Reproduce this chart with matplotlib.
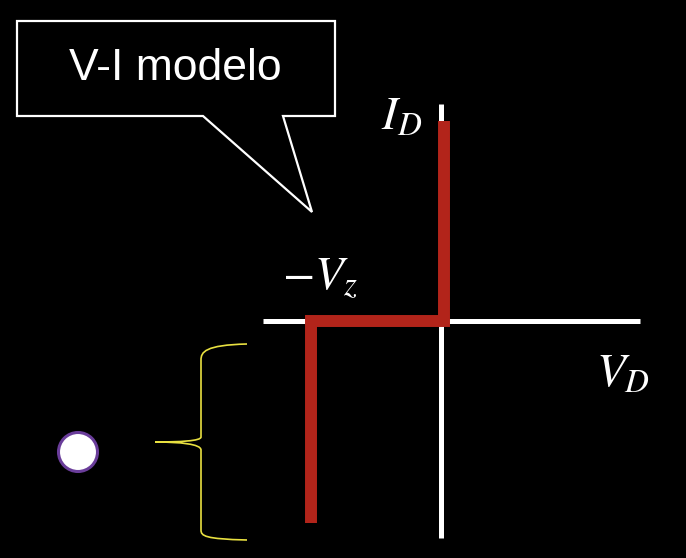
import matplotlib
matplotlib.use('Agg')
import matplotlib.pyplot as plt
from matplotlib.patches import Polygon, Circle
from matplotlib.path import Path
from matplotlib.patches import PathPatch
from matplotlib import font_manager

plt.rcParams['mathtext.fontset'] = 'stix'

# ideal zener model: forward vertical at ~0 V, flat until -Vz, then vertical breakdown
vz = 5.0
v_model = [0.12, 0.12, -vz, -vz]
i_model = [7.7, 0.0, 0.0, -7.75]

# axis extents (V and I directions)
v_axis = [-6.85, 7.65]
i_axis = [-8.35, 8.35]

W, H = 686, 558
fig = plt.figure(figsize=(W / 100, H / 100), dpi=100)
fig.patch.set_facecolor('black')

# chart axes, origin placed at pixel (441, 321), 26 px per unit
px = 26.0
ax = fig.add_axes([0, 0, 1, 1])
ax.set_xlim(-441 / px, (W - 441) / px)
ax.set_ylim(-(H - 321) / px, 321 / px)
ax.set_facecolor('black')
ax.axis('off')

ax.plot(v_axis, [0, 0], color='white', lw=3.6, solid_capstyle='butt')
ax.plot([0, 0], i_axis, color='white', lw=3.6, solid_capstyle='butt')
ax.plot(v_model, i_model, color='#B2241A', lw=8.6,
        solid_joinstyle='miter', solid_capstyle='butt')

ax.text(-60 / px, 191 / px, '$I_D$', color='white', fontsize=34, ha='left', va='baseline')
ax.text(-159 / px, 31 / px, r'$-V_z$', color='white', fontsize=34, ha='left', va='baseline')
ax.text(155 / px, -66 / px, '$V_D$', color='white', fontsize=34, ha='left', va='baseline')

# overlay in pixel coordinates for the callout, brace and dot
ov = fig.add_axes([0, 0, 1, 1])
ov.set_xlim(0, W)
ov.set_ylim(H, 0)
ov.axis('off')
ov.patch.set_alpha(0)

callout = Polygon([(17, 21), (335, 21), (335, 116), (283, 116), (312, 212),
                   (203, 116), (17, 116)], closed=True, facecolor='black',
                  edgecolor='white', lw=1.6, joinstyle='miter')
ov.add_patch(callout)

names = {f.name for f in font_manager.fontManager.ttflist}
if 'Liberation Sans Narrow' in names:
    ov.text(175, 68, 'V-I modelo', color='white', fontsize=35,
            family='Liberation Sans Narrow', ha='center', va='center')
else:
    ov.text(175, 68, 'V-I modelo', color='white', fontsize=32,
            family='Liberation Sans', ha='center', va='center')

verts = [(247, 344), (205, 345), (201, 352), (201, 360),
         (201, 437),
         (201, 441), (180, 442), (155, 442),
         (180, 442), (201, 444), (201, 450),
         (201, 530),
         (201, 536), (205, 539), (247, 540)]
codes = [Path.MOVETO, Path.CURVE4, Path.CURVE4, Path.CURVE4,
         Path.LINETO,
         Path.CURVE4, Path.CURVE4, Path.CURVE4,
         Path.CURVE4, Path.CURVE4, Path.CURVE4,
         Path.LINETO,
         Path.CURVE4, Path.CURVE4, Path.CURVE4]
ov.add_patch(PathPatch(Path(verts, codes), facecolor='none',
                       edgecolor='#E8E040', lw=1.2))

ov.add_patch(Circle((78, 452), 19.5, facecolor='white', edgecolor='#6A3D9A', lw=2.2))

fig.savefig('out.png', dpi=100, facecolor='black')
